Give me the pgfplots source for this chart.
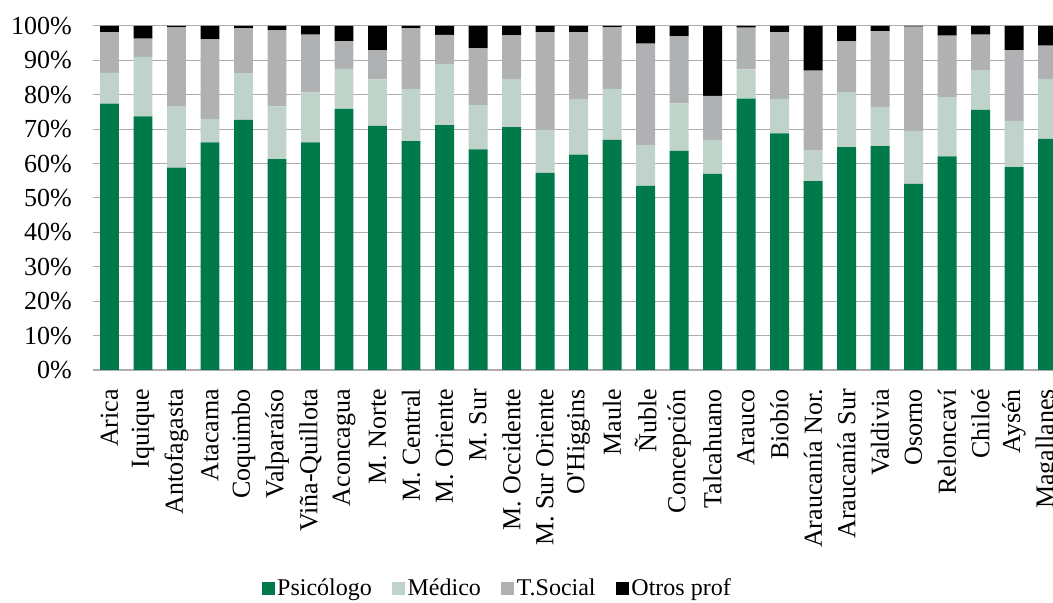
\documentclass[border=0pt]{standalone}
\usepackage{pgfplots}
\pgfplotsset{compat=1.18}
\usepackage{fontspec}
\setmainfont{Liberation Serif}
\newfontfamily\plainserif{Liberation Serif}
\definecolor{psi}{RGB}{0,122,75}
\definecolor{med}{RGB}{192,211,203}
\definecolor{tso}{RGB}{176,177,179}
\definecolor{gridg}{RGB}{173,173,173}
\begin{document}
\begin{tikzpicture}
\begin{axis}[
  at={(0pt,0pt)}, anchor=south west,
  scale only axis, width=485.75pt, height=172pt,
  ybar stacked, bar width=0.567,
  xmin=-0.5, xmax=28.5, ymin=0, ymax=100,
  xtick={0,...,28},
  xticklabels={Arica,Iquique,Antofagasta,Atacama,Coquimbo,Valparaíso,Viña-Quillota,Aconcagua,M. Norte,M. Central,M. Oriente,M. Sur,M. Occidente,M. Sur Oriente,{O{\plainserif '}Higgins},Maule,Ñuble,Concepción,Talcahuano,Arauco,Biobío,Araucanía Nor.,Araucanía Sur,Valdivia,Osorno,Reloncaví,Chiloé,Aysén,Magallanes},
  ytick={0,10,...,100},
  yticklabels={0\%,10\%,20\%,30\%,40\%,50\%,60\%,70\%,80\%,90\%,100\%},
  ticklabel style={font=\fontsize{13}{15}\selectfont},
  xticklabel style={yshift=-6pt, rotate=90, anchor=east},
  yticklabel style={xshift=-7pt},
  major tick length=0pt,
  ymajorgrids, grid style={color=gridg, line width=0.5pt},
  axis x line*=bottom, axis y line*=left,
  x axis line style={color=gridg, line width=1pt, -},
  y axis line style={draw=none},
  legend columns=4,
  legend style={at={(0.4166,-0.6366)}, anchor=center, draw=none, fill=none,
    font=\fontsize{12}{14}\selectfont,
    /tikz/every even column/.append style={column sep=9pt},
    nodes={inner sep=1.2pt}},
  legend image code/.code={\fill[#1] (0pt,-3.25pt) rectangle (6.5pt,3.25pt);},
]
\addplot[fill=psi, draw=none] coordinates {(0,77.4) (1,73.7) (2,58.8) (3,66.2) (4,72.7) (5,61.3) (6,66.2) (7,75.9) (8,71.0) (9,66.5) (10,71.2) (11,64.1) (12,70.6) (13,57.3) (14,62.6) (15,66.9) (16,53.5) (17,63.7) (18,57.0) (19,78.9) (20,68.8) (21,54.9) (22,64.8) (23,65.1) (24,54.1) (25,62.1) (26,75.6) (27,59.0) (28,67.2)};
\addplot[fill=med, draw=none] coordinates {(0,9.0) (1,17.3) (2,17.9) (3,6.8) (4,13.6) (5,15.3) (6,14.5) (7,11.6) (8,13.5) (9,15.2) (10,17.8) (11,12.9) (12,14.0) (13,12.5) (14,16.2) (15,14.8) (16,11.9) (17,13.8) (18,9.9) (19,8.5) (20,10.0) (21,8.9) (22,16.0) (23,11.4) (24,15.4) (25,17.2) (26,11.6) (27,13.4) (28,17.4)};
\addplot[fill=tso, draw=none] coordinates {(0,11.8) (1,5.3) (2,22.9) (3,23.1) (4,13.0) (5,22.1) (6,16.8) (7,8.1) (8,8.4) (9,17.6) (10,8.4) (11,16.5) (12,12.7) (13,28.4) (14,19.4) (15,17.9) (16,29.5) (17,19.5) (18,12.8) (19,12.1) (20,19.4) (21,23.2) (22,14.7) (23,22.0) (24,30.3) (25,17.9) (26,10.3) (27,20.6) (28,9.7)};
\addplot[fill=black, draw=none] coordinates {(0,1.8) (1,3.7) (2,0.4) (3,3.9) (4,0.7) (5,1.3) (6,2.5) (7,4.4) (8,7.1) (9,0.7) (10,2.6) (11,6.5) (12,2.7) (13,1.8) (14,1.8) (15,0.4) (16,5.1) (17,3.0) (18,20.3) (19,0.5) (20,1.8) (21,13.0) (22,4.5) (23,1.5) (24,0.2) (25,2.8) (26,2.5) (27,7.0) (28,5.7)};
\legend{Psicólogo,Médico,T.Social,Otros prof}
\end{axis}
\pgfresetboundingbox
\useasboundingbox (-46.375pt,-116.5pt) rectangle (480.125pt,185pt);
\end{tikzpicture}
\end{document}
